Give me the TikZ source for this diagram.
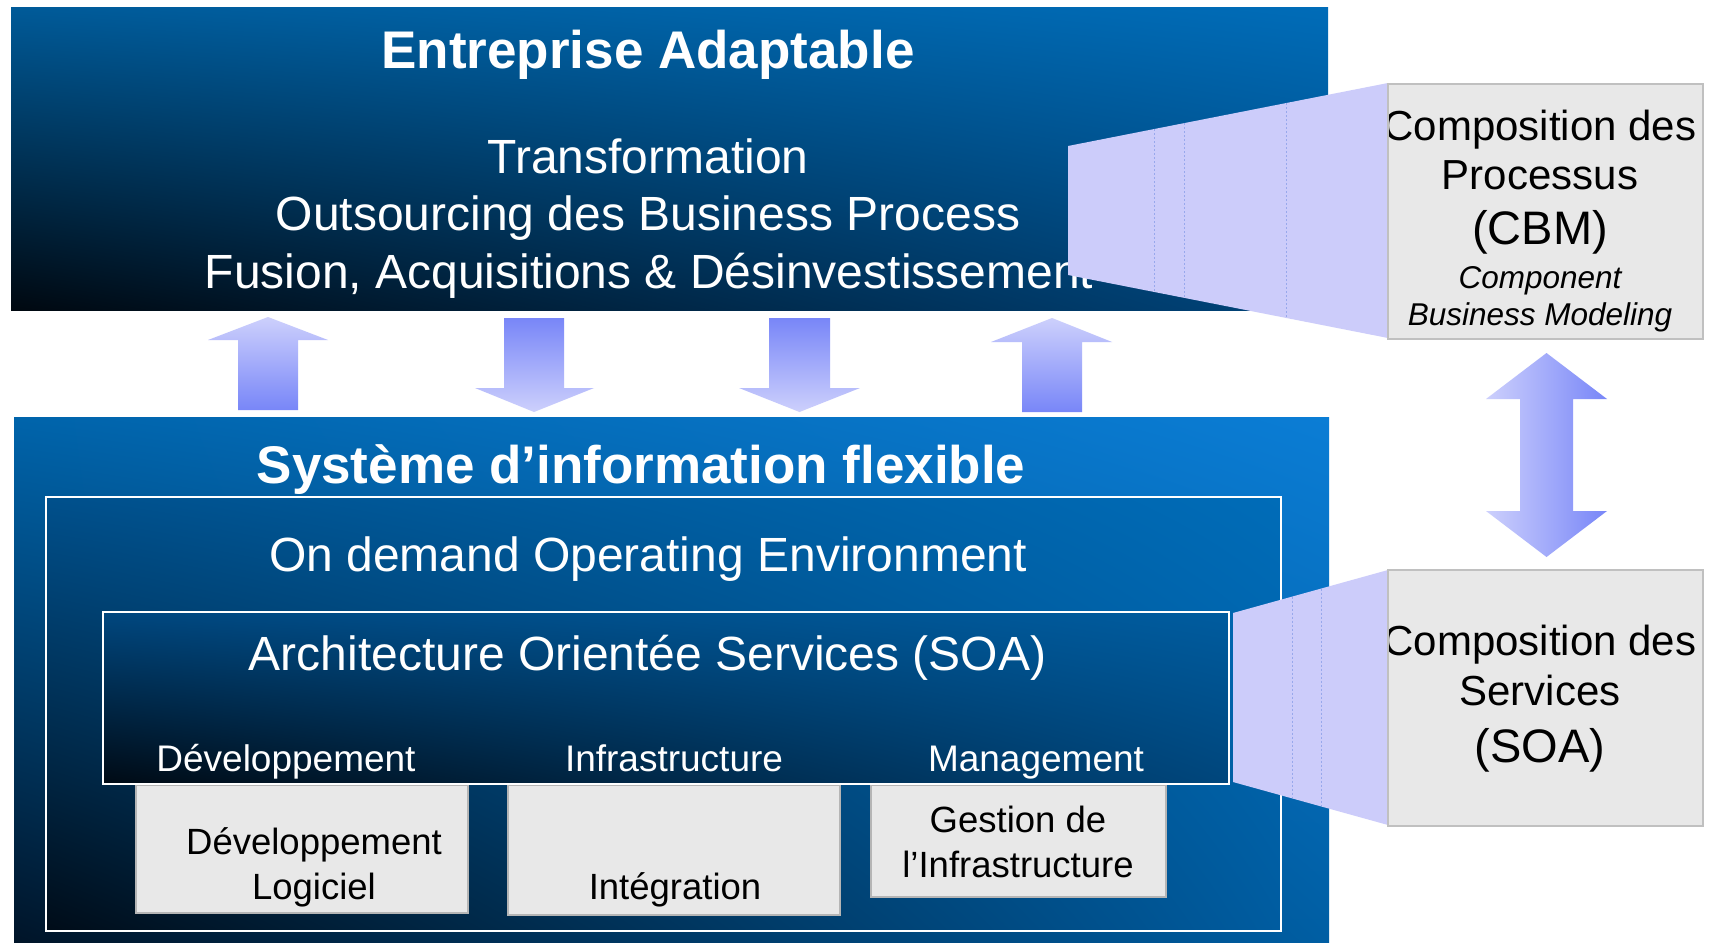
\documentclass[tikz,border=0pt]{standalone}
\usepackage{fontspec}
\setmainfont{Liberation Sans}
\usetikzlibrary{shadings}
\definecolor{tUL}{HTML}{005A98}
\definecolor{tUR}{HTML}{006CB8}
\definecolor{tLL}{HTML}{000810}
\definecolor{tLR}{HTML}{00457C}
\definecolor{bUL}{HTML}{0064AB}
\definecolor{bUR}{HTML}{0B7DD5}
\definecolor{bLL}{HTML}{001428}
\definecolor{bLR}{HTML}{005EA3}
\definecolor{oUL}{HTML}{00508C}
\definecolor{oUR}{HTML}{006CB8}
\definecolor{oLL}{HTML}{000C18}
\definecolor{oLR}{HTML}{005CA0}
\definecolor{sUL}{HTML}{00477F}
\definecolor{sUR}{HTML}{005C9F}
\definecolor{sLL}{HTML}{000A14}
\definecolor{sLR}{HTML}{00467C}
\definecolor{arlight}{HTML}{CDD0FC}
\definecolor{ardark}{HTML}{7886F8}
\definecolor{trap}{HTML}{CCCCFA}
\definecolor{trapline}{HTML}{98A8EC}
\definecolor{greyfill}{HTML}{E8E8E8}
\definecolor{greyline}{HTML}{B5B5B5}
\definecolor{boxline}{HTML}{C0C0C0}
\newcommand\fsz[1]{\fontsize{#1}{#1}\selectfont}
\begin{document}
\begin{tikzpicture}[x=1pt,y=-1pt,
  panel/.style={rectangle, inner sep=0pt, outer sep=0pt},
  topgrad/.style={upper left=tUL, upper right=tUR, lower left=tLL, lower right=tLR},
  botgrad/.style={upper left=bUL, upper right=bUR, lower left=bLL, lower right=bLR},
  oegrad/.style={upper left=oUL, upper right=oUR, lower left=oLL, lower right=oLR},
  soagrad/.style={upper left=sUL, upper right=sUR, lower left=sLL, lower right=sLR},
  wline/.style={draw=white, line width=2pt},
  wt/.style={text=white, inner sep=0pt, anchor=base},
  bt/.style={text=black, inner sep=0pt, anchor=base},
  greybox/.style={panel, fill=greyfill, draw=greyline, line width=1.5pt},
  sidebox/.style={panel, fill=greyfill, draw=boxline, line width=2pt},
  uparrow/.style={top color=arlight, bottom color=ardark},
  downarrow/.style={top color=ardark, bottom color=arlight},
  trapfill/.style={fill=trap},
  trapdash/.style={draw=trapline, line width=0.7pt, dash pattern=on 2pt off 2pt}
]
\useasboundingbox (0,0) rectangle (1710,942);
\fill[white] (0,0) rectangle (1710,942);

% ---- top panel ----
\node[panel, topgrad, minimum width=1317pt, minimum height=302pt] (top) at (669.5,159) {};
\node[wt, font=\fsz{53}\bfseries] (ttitle) at (648,69) {Entreprise Adaptable};
\node[wt, font=\fsz{48}] (t1) at (648,173) {Transformation};
\node[wt, font=\fsz{48}] (t2) at (648,230) {Outsourcing des Business Process};
\node[wt, font=\fsz{48}] (t3) at (649,288) {Fusion, Acquisitions \& Désinvestissement};

% ---- bottom panel ----
\node[panel, botgrad, minimum width=1315pt, minimum height=526pt] (bot) at (671.5,680) {};
\node[wt, font=\fsz{53}\bfseries] (btitle) at (641,483) {Système d’information flexible};
\node[panel, oegrad, wline, minimum width=1235pt, minimum height=434pt] (ooe) at (663.5,714) {};
\node[wt, font=\fsz{48}] (ooetxt) at (648,571) {On demand Operating Environment};

% grey boxes
\node[greybox, minimum width=332pt, minimum height=128pt] (g1) at (302,849) {};
\node[greybox, minimum width=332pt, minimum height=130pt] (g2) at (674,850) {};
\node[greybox, minimum width=295pt, minimum height=112pt] (g3) at (1018.5,841) {};
\node[bt, font=\fsz{36.5}] (g1a) at (314,854) {Développement};
\node[bt, font=\fsz{36.5}] (g1b) at (314,899) {Logiciel};
\node[bt, font=\fsz{36.5}] (g2a) at (675,899) {Intégration};
\node[bt, font=\fsz{36.5}] (g3a) at (1018,832) {Gestion de};
\node[bt, font=\fsz{36.5}] (g3b) at (1018,877) {l’Infrastructure};

% SOA box
\node[panel, soagrad, wline, minimum width=1126pt, minimum height=172pt] (soa) at (666,698) {};
\node[wt, font=\fsz{48}] (soatxt) at (647.5,670) {Architecture Orientée Services (SOA)};
\node[wt, font=\fsz{37}] (l1) at (286,771) {Développement};
\node[wt, font=\fsz{37}] (l2) at (674,771) {Infrastructure};
\node[wt, font=\fsz{37}] (l3) at (1036,771) {Management};

% ---- block arrows between panels ----
\shade[uparrow] (268,317) -- (328,340) -- (298,340) -- (298,410) -- (238,410) -- (238,340) -- (208,340) -- cycle;
\shade[downarrow] (504,318) -- (564,318) -- (564,388) -- (594,388) -- (534,412) -- (475,388) -- (504,388) -- cycle;
\shade[downarrow] (769,318) -- (830,318) -- (830,388) -- (860,388) -- (799.5,412) -- (739,388) -- (769,388) -- cycle;
\shade[uparrow] (1052,318) -- (1112,342) -- (1082,342) -- (1082,412) -- (1022,412) -- (1022,342) -- (991,342) -- cycle;

% ---- projection trapezoids ----
\fill[trapfill] (1068,146) -- (1388,83) -- (1388,338) -- (1068,275) -- cycle;
\draw[trapdash] (1154,129.1) -- (1154,291.9);
\draw[trapdash] (1184,123.1) -- (1184,297.9);
\draw[trapdash] (1286,103.0) -- (1286,318.0);
\fill[trapfill] (1233,613) -- (1388,570) -- (1388,825) -- (1233,782) -- cycle;
\draw[trapdash] (1292,596.6) -- (1292,798.4);
\draw[trapdash] (1321,588.6) -- (1321,806.4);

% ---- side boxes ----
\node[sidebox, minimum width=315pt, minimum height=255pt] (cbm) at (1545.5,211.5) {};
\begin{scope}
\clip (1389,85) rectangle (1702,338);
\node[bt, font=\fsz{42}] (c1) at (1540,140) {Composition des};
\node[bt, font=\fsz{42}] (c2) at (1540,189) {Processus};
\node[bt, font=\fsz{47}] (c3) at (1540,244) {(CBM)};
\node[bt, font=\fsz{31.5}\itshape] (c4) at (1540,288) {Component};
\node[bt, font=\fsz{31.5}\itshape] (c5) at (1540,325) {Business Modeling};
\end{scope}

\node[sidebox, minimum width=315pt, minimum height=256pt] (soab) at (1545.5,698) {};
\begin{scope}
\clip (1389,571) rectangle (1702,825);
\node[bt, font=\fsz{42}] (s1) at (1540,655) {Composition des};
\node[bt, font=\fsz{42}] (s2) at (1540,705) {Services};
\node[bt, font=\fsz{47}] (s3) at (1540,762) {(SOA)};
\end{scope}

% ---- double arrow ----
\shade[left color=arlight, right color=ardark] (1546.5,353) -- (1607,399) -- (1573,399) -- (1573,511) -- (1607,511) -- (1546.5,557) -- (1486,511) -- (1520,511) -- (1520,399) -- (1486,399) -- cycle;
\end{tikzpicture}
\end{document}
